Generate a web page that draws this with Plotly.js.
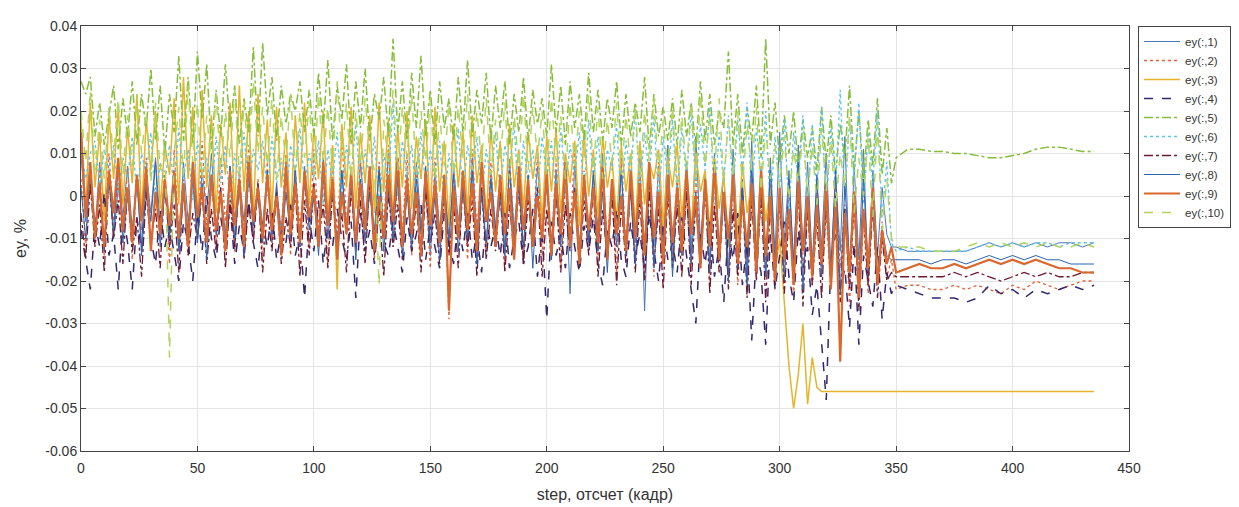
<!DOCTYPE html>
<html>
<head>
<meta charset="utf-8">
<script src="https://cdn.plot.ly/plotly-3.0.1.min.js"></script>
<style>html,body{margin:0;padding:0;background:#fff;}#chart{width:1239px;height:507px;}</style>
</head>
<body>
<div id="chart"></div>
<script>
// step (frame index) at which each value was read
const steps = [
0,2,4,6,8,10,12,14,16,18,
20,22,24,26,28,30,32,34,36,38,
40,42,44,46,48,50,52,54,56,58,
60,62,64,66,68,70,72,74,76,78,
80,82,84,86,88,90,92,94,96,98,
100,102,104,106,108,110,112,114,116,118,
120,122,124,126,128,130,132,134,136,138,
140,142,144,146,148,150,152,154,156,158,
160,162,164,166,168,170,172,174,176,178,
180,182,184,186,188,190,192,194,196,198,
200,202,204,206,208,210,212,214,216,218,
220,222,224,226,228,230,232,234,236,238,
240,242,244,246,248,250,252,254,256,258,
260,262,264,266,268,270,272,274,276,278,
280,282,284,286,288,290,292,294,296,298,
300,302,304,306,308,310,312,314,316,318,
320,322,324,326,328,330,332,334,336,338,
340,342,344,346,348,350,
355,360,365,370,375,380,385,390,395,400,405,410,415,420,425,430,435];

const ey1 = [
0.010,-0.006,0.004,-0.009,0.008,-0.003,0.005,-0.010,0.002,-0.005,
0.007,-0.008,0.003,-0.011,0.006,-0.004,0.009,-0.007,0.001,-0.009,
0.005,-0.012,0.008,-0.006,0.003,-0.010,0.006,-0.004,0.010,-0.008,
0.002,-0.009,0.007,-0.013,0.004,-0.006,0.009,-0.010,0.003,-0.007,
0.006,-0.011,0.001,-0.008,0.008,-0.005,0.004,-0.012,0.007,-0.006,
0.003,-0.010,0.009,-0.007,0.002,-0.013,0.006,-0.008,0.004,-0.011,
0.008,-0.005,0.002,-0.010,0.007,-0.008,0.010,-0.006,0.003,-0.012,
0.005,-0.009,0.008,-0.007,0.001,-0.014,0.006,-0.008,0.004,-0.012,
0.007,-0.006,0.003,-0.011,0.009,-0.009,0.002,-0.013,0.006,-0.007,
0.004,-0.012,0.008,-0.008,0.005,-0.015,0.003,-0.010,0.007,-0.006,
0.002,-0.011,0.006,-0.009,0.004,-0.023,0.008,-0.012,0.003,-0.010,
0.006,-0.008,0.010,-0.014,0.002,-0.009,0.007,-0.013,0.005,-0.011,
0.009,-0.027,0.004,-0.012,0.007,-0.010,0.012,-0.015,0.003,-0.009,
0.008,-0.013,0.014,-0.011,0.005,-0.016,0.010,-0.012,0.006,-0.018,
0.011,-0.010,0.004,-0.017,0.013,-0.012,0.007,-0.019,0.009,-0.014,
0.015,-0.011,0.006,-0.018,0.012,-0.013,0.008,-0.016,0.003,-0.012,
0.010,-0.017,0.005,-0.013,0.014,-0.019,0.007,-0.015,0.011,-0.020,
0.006,-0.014,0.002,-0.009,-0.012,-0.012,
-0.013,-0.013,-0.013,-0.013,-0.013,-0.013,-0.012,-0.011,-0.012,-0.011,-0.012,-0.011,-0.012,-0.011,-0.011,-0.012,-0.011];

const ey2 = [
0.004,-0.012,0.008,-0.009,0.006,-0.014,0.010,-0.006,0.003,-0.011,
0.007,-0.015,0.005,-0.008,0.009,-0.013,0.002,-0.010,0.006,-0.016,
0.011,-0.009,0.004,-0.014,0.008,-0.011,0.013,-0.007,0.005,-0.012,
0.009,-0.006,0.003,-0.013,0.007,-0.010,0.012,-0.008,0.004,-0.015,
0.008,-0.011,0.002,-0.009,0.010,-0.014,0.006,-0.007,0.003,-0.012,
0.011,-0.008,0.005,-0.016,0.007,-0.010,0.014,-0.006,0.002,-0.013,
0.009,-0.011,0.004,-0.015,0.008,-0.007,0.012,-0.012,0.003,-0.009,
0.010,-0.014,0.006,-0.008,0.002,-0.017,0.009,-0.012,0.005,-0.029,
0.007,-0.010,0.003,-0.015,0.011,-0.008,0.005,-0.013,0.008,-0.011,
0.004,-0.016,0.009,-0.009,0.006,-0.013,0.002,-0.010,0.010,-0.014,
0.005,-0.012,0.008,-0.017,0.003,-0.009,0.011,-0.014,0.006,-0.010,
0.002,-0.015,0.007,-0.011,0.004,-0.018,0.009,-0.012,0.001,-0.016,
0.006,-0.013,0.003,-0.019,0.008,-0.011,0.002,-0.016,0.005,-0.012,
0.000,-0.017,0.006,-0.013,0.003,-0.020,0.007,-0.014,0.001,-0.018,
0.004,-0.021,-0.002,-0.015,0.005,-0.019,0.000,-0.016,0.003,-0.022,
-0.001,-0.018,0.004,-0.024,0.002,-0.017,-0.003,-0.021,0.001,-0.019,
-0.004,-0.022,0.003,-0.017,-0.002,-0.026,0.001,-0.018,-0.005,-0.023,
0.000,-0.020,-0.006,-0.019,-0.015,-0.022,
-0.021,-0.021,-0.022,-0.022,-0.021,-0.022,-0.021,-0.022,-0.023,-0.021,-0.022,-0.020,-0.021,-0.022,-0.021,-0.020,-0.020];

const ey3 = [
0.018,-0.004,0.022,0.002,0.015,-0.006,0.019,0.004,0.021,-0.002,
0.016,0.003,0.024,-0.005,0.018,0.006,0.020,-0.003,0.012,0.005,
0.023,-0.002,0.028,0.004,0.021,-0.006,0.025,0.002,0.019,-0.004,
0.017,0.005,0.022,-0.003,0.026,0.001,0.020,-0.005,0.024,0.003,
0.018,-0.004,0.021,0.002,0.015,-0.006,0.019,0.003,0.022,-0.002,
0.016,0.004,0.020,-0.005,0.012,-0.022,0.017,0.002,0.021,-0.003,
0.015,0.003,0.019,-0.004,0.022,0.001,0.018,-0.006,0.016,0.002,
0.020,-0.003,0.014,0.004,0.018,-0.005,0.021,0.001,0.013,-0.007,
0.017,0.002,0.015,-0.004,0.019,0.003,0.012,-0.006,0.016,0.001,
0.013,-0.005,0.017,0.002,0.011,-0.003,0.015,0.004,0.012,-0.006,
0.014,0.001,0.016,-0.004,0.010,0.003,0.013,-0.007,0.015,0.000,
0.011,-0.005,0.014,0.002,0.009,-0.006,0.012,0.001,0.010,-0.008,
0.013,-0.002,0.008,0.004,0.011,-0.007,0.009,0.002,0.012,-0.005,
0.007,-0.009,0.010,0.001,0.006,-0.008,0.009,-0.003,0.005,-0.012,
0.006,-0.010,0.008,-0.004,0.003,-0.013,0.007,-0.006,0.002,-0.018,
-0.010,-0.025,-0.040,-0.050,-0.042,-0.030,-0.049,-0.038,-0.045,-0.046,
-0.046,-0.046,-0.046,-0.046,-0.046,-0.046,-0.046,-0.046,-0.046,-0.046,
-0.046,-0.046,-0.046,-0.046,-0.046,-0.046,
-0.046,-0.046,-0.046,-0.046,-0.046,-0.046,-0.046,-0.046,-0.046,-0.046,-0.046,-0.046,-0.046,-0.046,-0.046,-0.046,-0.046];

const ey4 = [
-0.008,-0.015,-0.022,-0.006,-0.012,0.001,-0.014,-0.009,-0.022,-0.004,
-0.011,-0.022,-0.005,-0.013,0.002,-0.010,-0.016,-0.003,-0.012,-0.007,
-0.014,-0.020,-0.006,-0.011,-0.020,-0.004,-0.013,0.000,-0.010,-0.015,
-0.005,-0.012,-0.002,-0.016,-0.007,-0.013,-0.001,-0.011,-0.017,-0.006,
-0.012,-0.003,-0.015,-0.008,-0.011,-0.002,-0.014,-0.009,-0.024,-0.005,
-0.013,-0.001,-0.016,-0.007,-0.012,-0.003,-0.010,-0.015,-0.006,-0.024,
-0.004,-0.013,-0.008,-0.016,-0.002,-0.011,-0.014,-0.006,-0.012,-0.018,
-0.005,-0.013,-0.009,-0.002,-0.015,-0.007,-0.012,-0.017,-0.004,-0.011,
-0.016,-0.006,-0.013,-0.003,-0.015,-0.009,-0.018,-0.005,-0.012,-0.007,
-0.014,-0.004,-0.017,-0.010,-0.006,-0.016,-0.012,-0.003,-0.019,-0.008,
-0.029,-0.006,-0.014,-0.009,-0.017,-0.004,-0.012,-0.018,-0.007,-0.013,
-0.005,-0.016,-0.021,-0.008,-0.012,-0.003,-0.015,-0.019,-0.006,-0.014,
-0.009,-0.017,-0.004,-0.013,-0.020,-0.007,-0.015,-0.011,-0.018,-0.005,
-0.014,-0.022,-0.030,-0.009,-0.016,-0.006,-0.019,-0.012,-0.025,-0.008,
-0.015,-0.004,-0.021,-0.011,-0.034,-0.013,-0.018,-0.035,-0.009,-0.022,
-0.014,-0.006,-0.019,-0.025,-0.008,-0.017,-0.012,-0.028,-0.021,-0.035,
-0.048,-0.015,-0.009,-0.022,-0.017,-0.031,-0.011,-0.035,-0.014,-0.020,
-0.026,-0.012,-0.029,-0.018,-0.023,-0.021,
-0.022,-0.023,-0.024,-0.024,-0.024,-0.025,-0.024,-0.021,-0.023,-0.022,-0.024,-0.022,-0.023,-0.022,-0.021,-0.022,-0.021];

const ey5 = [
0.027,0.024,0.028,0.014,0.022,0.012,0.019,0.026,0.011,0.023,
0.014,0.027,0.012,0.024,0.016,0.030,0.013,0.026,0.010,0.024,
0.015,0.033,0.013,0.028,0.012,0.034,0.018,0.031,0.011,0.025,
0.014,0.031,0.016,0.026,0.012,0.023,0.015,0.035,0.014,0.036,
0.019,0.028,0.013,0.026,0.017,0.024,0.020,0.027,0.015,0.025,
0.014,0.029,0.016,0.032,0.013,0.026,0.018,0.031,0.012,0.027,
0.016,0.030,0.013,0.024,0.018,0.028,0.014,0.037,0.015,0.027,
0.013,0.029,0.016,0.033,0.014,0.025,0.012,0.027,0.016,0.023,
0.013,0.028,0.015,0.032,0.014,0.025,0.017,0.029,0.013,0.026,
0.016,0.027,0.012,0.024,0.015,0.028,0.013,0.025,0.017,0.023,
0.014,0.031,0.015,0.026,0.012,0.027,0.016,0.024,0.013,0.029,
0.015,0.025,0.013,0.023,0.016,0.027,0.012,0.024,0.014,0.022,
0.015,0.028,0.011,0.024,0.014,0.021,0.013,0.023,0.012,0.025,
0.014,0.022,0.011,0.027,0.013,0.024,0.012,0.020,0.016,0.034,
0.012,0.024,0.010,0.021,0.013,0.026,0.009,0.037,0.012,0.022,
0.008,0.019,0.010,0.020,0.007,0.018,0.009,0.016,0.006,0.021,
0.008,0.019,0.005,0.017,0.009,0.026,0.006,0.020,0.004,0.018,
0.007,0.023,0.005,0.016,0.003,0.009,
0.011,0.011,0.0105,0.0105,0.010,0.010,0.0095,0.009,0.009,0.0095,0.010,0.011,0.0115,0.0115,0.011,0.0105,0.0105];

const ey6 = [
0.012,0.004,0.010,0.013,0.002,0.011,0.006,0.012,0.001,0.009,
0.004,0.014,0.000,0.010,0.005,0.015,-0.002,0.008,0.003,0.012,
0.001,0.016,0.004,0.011,-0.001,0.013,0.005,0.009,0.000,0.014,
0.003,0.012,-0.002,0.010,0.004,0.015,0.001,0.011,0.006,0.013,
0.000,0.014,0.003,0.009,-0.001,0.012,0.005,0.016,0.002,0.010,
0.004,0.013,-0.002,0.011,0.003,0.015,0.000,0.012,0.005,0.017,
0.001,0.011,0.004,0.014,-0.002,0.010,0.003,0.022,0.000,0.013,
0.005,0.012,-0.001,0.015,0.002,0.011,0.004,0.013,-0.002,0.010,
0.003,0.016,0.000,0.012,0.005,0.014,-0.001,0.011,0.004,0.015,
0.001,0.012,0.006,0.017,-0.002,0.013,0.003,0.011,0.000,0.014,
0.004,0.013,-0.001,0.016,0.002,0.012,0.005,0.015,0.001,0.018,
0.003,0.014,0.000,0.011,0.006,0.017,-0.002,0.013,0.004,0.020,
0.001,0.015,0.005,0.019,-0.001,0.014,0.003,0.018,0.000,0.016,
0.004,0.020,0.002,0.017,0.006,0.021,-0.002,0.015,0.003,0.019,
0.001,0.018,0.005,0.022,0.000,0.016,0.004,0.020,-0.003,0.014,
0.002,0.018,-0.004,0.015,0.003,0.019,-0.002,0.017,0.001,0.021,
-0.003,0.016,0.002,0.025,-0.001,0.018,0.004,0.022,-0.002,0.015,
0.003,0.020,-0.005,0.008,-0.011,-0.013,
-0.012,-0.013,-0.013,-0.013,-0.013,-0.013,-0.012,-0.011,-0.012,-0.011,-0.012,-0.011,-0.011,-0.012,-0.011,-0.011,-0.011];

const ey7 = [
-0.004,-0.015,0.003,-0.012,-0.002,-0.018,0.005,-0.010,-0.001,-0.016,
0.002,-0.013,-0.005,-0.019,0.001,-0.011,-0.003,-0.017,0.004,-0.012,
-0.002,-0.018,0.003,-0.014,-0.004,-0.010,0.001,-0.016,-0.003,-0.013,
0.002,-0.017,-0.001,-0.012,0.004,-0.015,-0.002,-0.011,0.003,-0.018,
-0.003,-0.013,0.001,-0.016,-0.005,-0.012,0.002,-0.019,-0.001,-0.014,
0.003,-0.011,-0.002,-0.017,0.001,-0.013,-0.004,-0.018,0.002,-0.012,
-0.001,-0.016,0.004,-0.014,-0.003,-0.019,0.001,-0.012,-0.002,-0.015,
0.003,-0.013,-0.001,-0.018,0.002,-0.011,-0.004,-0.016,0.001,-0.014,
-0.002,-0.017,0.003,-0.012,-0.001,-0.019,0.002,-0.015,-0.003,-0.013,
0.001,-0.018,-0.002,-0.014,0.003,-0.016,-0.001,-0.012,0.002,-0.019,
-0.003,-0.015,0.001,-0.018,-0.002,-0.013,0.002,-0.017,-0.001,-0.014,
0.002,-0.019,-0.003,-0.015,0.001,-0.021,-0.002,-0.016,0.003,-0.018,
-0.001,-0.020,0.002,-0.016,-0.003,-0.022,0.001,-0.017,-0.002,-0.019,
0.002,-0.021,-0.001,-0.017,0.003,-0.023,-0.002,-0.018,0.001,-0.022,
-0.003,-0.019,0.002,-0.024,-0.001,-0.020,0.001,-0.025,-0.002,-0.021,
0.000,-0.023,-0.004,-0.019,0.001,-0.026,-0.002,-0.021,-0.005,-0.024,
-0.001,-0.020,0.000,-0.025,-0.003,-0.022,-0.001,-0.027,-0.004,-0.021,
-0.002,-0.024,-0.010,-0.020,-0.018,-0.019,
-0.019,-0.019,-0.019,-0.019,-0.018,-0.019,-0.018,-0.019,-0.020,-0.019,-0.018,-0.019,-0.018,-0.019,-0.019,-0.018,-0.018];

const ey8 = [
0.002,-0.010,0.006,-0.007,0.001,-0.013,0.004,-0.008,0.007,-0.011,
0.000,-0.009,0.005,-0.014,0.003,-0.006,0.008,-0.012,0.002,-0.010,
0.004,-0.013,0.000,-0.008,0.006,-0.011,0.003,-0.015,0.005,-0.009,
0.001,-0.012,0.007,-0.010,0.002,-0.014,0.005,-0.007,0.000,-0.011,
0.006,-0.009,0.003,-0.013,0.001,-0.010,0.007,-0.012,0.004,-0.008,
0.000,-0.014,0.005,-0.010,0.002,-0.012,0.006,-0.009,0.003,-0.015,
0.004,-0.011,0.001,-0.008,0.006,-0.013,0.002,-0.010,0.005,-0.014,
0.001,-0.012,0.004,-0.009,0.007,-0.011,0.000,-0.015,0.003,-0.010,
0.005,-0.013,0.002,-0.010,0.006,-0.016,0.001,-0.011,0.004,-0.009,
0.000,-0.014,0.006,-0.011,0.003,-0.012,0.005,-0.017,0.001,-0.010,
0.004,-0.015,0.002,-0.012,0.007,-0.010,0.000,-0.016,0.003,-0.011,
0.005,-0.013,0.001,-0.018,0.004,-0.012,0.006,-0.014,0.002,-0.016,
0.003,-0.012,0.007,-0.017,0.000,-0.013,0.005,-0.019,0.002,-0.014,
0.006,-0.016,0.001,-0.013,0.004,-0.018,0.008,-0.015,0.000,-0.020,
0.005,-0.017,0.002,-0.021,0.007,-0.014,0.003,-0.019,0.006,-0.016,
0.001,-0.020,0.004,-0.015,0.008,-0.022,0.002,-0.017,0.005,-0.019,
0.000,-0.018,0.006,-0.023,0.003,-0.016,0.001,-0.021,0.004,-0.017,
-0.002,-0.019,-0.008,-0.014,-0.015,-0.015,
-0.015,-0.015,-0.016,-0.015,-0.015,-0.016,-0.015,-0.014,-0.015,-0.014,-0.015,-0.014,-0.015,-0.015,-0.016,-0.016,-0.016];

const ey9 = [
0.015,-0.005,0.008,-0.010,0.003,-0.012,0.006,-0.004,0.009,-0.008,
0.002,-0.011,0.005,-0.006,0.007,-0.013,0.001,-0.009,0.004,-0.007,
0.006,-0.010,0.003,-0.012,0.008,-0.005,0.002,-0.011,0.005,-0.008,
0.001,-0.013,0.006,-0.007,0.004,-0.012,0.009,-0.006,0.002,-0.010,
0.005,-0.008,0.000,-0.014,0.007,-0.009,0.003,-0.011,0.006,-0.005,
0.002,-0.012,0.008,-0.007,0.004,-0.015,0.001,-0.009,0.006,-0.011,
0.003,-0.008,0.007,-0.013,0.000,-0.010,0.005,-0.006,0.009,-0.012,
0.004,-0.009,0.001,-0.014,0.006,-0.007,0.003,-0.011,0.005,-0.027,
0.002,-0.010,0.006,-0.008,0.003,-0.013,0.008,-0.006,0.001,-0.012,
0.005,-0.009,0.002,-0.015,0.007,-0.008,0.004,-0.012,0.000,-0.010,
0.006,-0.014,0.003,-0.009,0.008,-0.012,0.001,-0.016,0.005,-0.008,
0.002,-0.011,0.007,-0.015,0.004,-0.009,0.000,-0.013,0.006,-0.010,
0.003,-0.014,0.008,-0.010,0.001,-0.016,0.005,-0.011,0.002,-0.013,
0.006,-0.009,0.000,-0.017,0.004,-0.012,0.007,-0.015,0.001,-0.010,
0.005,-0.016,-0.001,-0.012,0.003,-0.018,0.006,-0.014,0.000,-0.020,
0.002,-0.015,-0.003,-0.021,0.004,-0.013,0.000,-0.019,-0.002,-0.016,
0.003,-0.022,-0.001,-0.039,-0.004,-0.018,0.001,-0.024,-0.003,-0.017,
0.002,-0.021,-0.008,-0.016,-0.012,-0.018,
-0.017,-0.016,-0.017,-0.017,-0.016,-0.017,-0.016,-0.015,-0.016,-0.015,-0.016,-0.015,-0.016,-0.017,-0.017,-0.018,-0.018];

const ey10 = [
0.020,0.008,0.025,0.006,0.018,0.004,0.021,0.009,0.023,0.005,
0.019,0.007,0.024,0.010,0.020,0.003,0.022,0.006,0.012,-0.038,
0.010,0.021,0.005,0.026,0.008,0.022,0.004,0.019,0.007,0.024,
0.006,0.020,0.009,0.025,0.005,0.022,0.008,0.027,0.010,0.021,
0.007,0.023,0.004,0.019,0.008,0.024,0.006,0.020,0.009,0.022,
0.005,0.024,0.008,0.021,0.006,0.027,0.009,0.022,0.004,0.020,
0.007,0.023,0.010,0.006,-0.021,0.018,0.008,0.025,0.006,0.021,
0.009,0.024,0.005,0.020,0.008,0.023,0.004,0.019,0.007,0.022,
0.005,0.021,0.009,0.024,0.006,0.020,0.008,0.023,0.005,0.018,
0.008,0.022,0.004,0.019,0.007,0.024,0.006,0.021,0.009,0.020,
0.005,0.023,0.008,0.019,0.004,0.022,0.007,0.020,0.009,0.024,
0.006,0.021,0.004,0.018,0.008,0.022,0.005,0.019,0.007,0.021,
0.004,0.020,0.008,0.023,0.005,0.018,0.006,0.021,0.003,0.019,
0.006,0.022,0.004,0.024,0.007,0.019,0.005,0.023,0.003,0.018,
0.005,0.020,0.002,0.017,0.006,0.021,0.001,0.016,0.004,0.012,
0.002,0.014,-0.001,0.011,0.003,0.015,0.000,0.012,-0.002,0.016,
0.001,0.013,-0.003,0.010,0.002,0.019,-0.004,0.009,0.000,0.014,
-0.005,0.017,-0.008,0.004,-0.010,-0.012,
-0.012,-0.012,-0.013,-0.013,-0.013,-0.012,-0.011,-0.012,-0.011,-0.012,-0.011,-0.012,-0.011,-0.012,-0.012,-0.011,-0.012];

const seriesNames = ['ey(:,1)','ey(:,2)','ey(:,3)','ey(:,4)','ey(:,5)','ey(:,6)','ey(:,7)','ey(:,8)','ey(:,9)','ey(:,10)'];
const seriesValues = [ey1, ey2, ey3, ey4, ey5, ey6, ey7, ey8, ey9, ey10];
const yTickVals = [0.04, 0.03, 0.02, 0.01, 0, -0.01, -0.02, -0.03, -0.04, -0.05, -0.06];
const yTickText = ['0.04', '0.03', '0.02', '0.01', '0', '-0.01', '-0.02', '-0.03', '-0.04', '-0.05', '-0.06'];
const xTickVals = [0, 50, 100, 150, 200, 250, 300, 350, 400, 450];

const lineStyles = [
  {color: '#4a78b8', width: 1, dash: 'solid'},
  {color: '#e5603a', width: 1.3, dash: 'dot'},
  {color: '#e6b42a', width: 1.5, dash: 'solid'},
  {color: '#33286e', width: 1.5, dash: 'dash'},
  {color: '#86bd3a', width: 1.5, dash: 'dashdot'},
  {color: '#5cc3e6', width: 1.3, dash: 'dot'},
  {color: '#6e1a30', width: 1.3, dash: 'dashdot'},
  {color: '#2d62ad', width: 1, dash: 'solid'},
  {color: '#d9682e', width: 2.2, dash: 'solid'},
  {color: '#b2d35e', width: 1.5, dash: 'dash'}
];

const traces = seriesValues.map((vals, i) => ({
  type: 'scatter',
  mode: 'lines',
  name: seriesNames[i],
  x: steps,
  y: vals,
  line: lineStyles[i],
  hoverinfo: 'skip'
}));

const fontFam = 'Liberation Sans, Arial, sans-serif';
const axisCommon = {
  showline: true,
  mirror: 'ticks',
  linecolor: '#444',
  linewidth: 1,
  ticks: 'inside',
  ticklen: 5,
  tickcolor: '#444',
  showgrid: true,
  gridcolor: '#e4e4e4',
  gridwidth: 1,
  zeroline: false,
  tickfont: {family: fontFam, size: 14, color: '#333'}
};

const layout = {
  width: 1239,
  height: 507,
  margin: {l: 81, r: 110, t: 26, b: 56, autoexpand: false},
  paper_bgcolor: '#fff',
  plot_bgcolor: '#fff',
  showlegend: true,
  legend: {
    x: 1.0086, y: 1.0, xanchor: 'left', yanchor: 'top',
    bordercolor: '#444', borderwidth: 1, bgcolor: '#fff',
    font: {family: fontFam, size: 11.5, color: '#333'},
    tracegroupgap: 0,
    itemwidth: 36
  },
  xaxis: Object.assign({}, axisCommon, {
    range: [0, 450],
    tickvals: xTickVals,
    ticklabelstandoff: 4,
    title: {text: 'step, отсчет (кадр)', standoff: 14,
      font: {family: fontFam, size: 16, color: '#333'}}
  }),
  yaxis: Object.assign({}, axisCommon, {
    range: [-0.06, 0.04],
    tickvals: yTickVals,
    ticktext: yTickText,
    title: {text: 'ey, %', standoff: 14,
      font: {family: fontFam, size: 16, color: '#333'}}
  })
};

Plotly.newPlot('chart', traces, layout, {displayModeBar: false, staticPlot: true});
</script>
</body>
</html>
